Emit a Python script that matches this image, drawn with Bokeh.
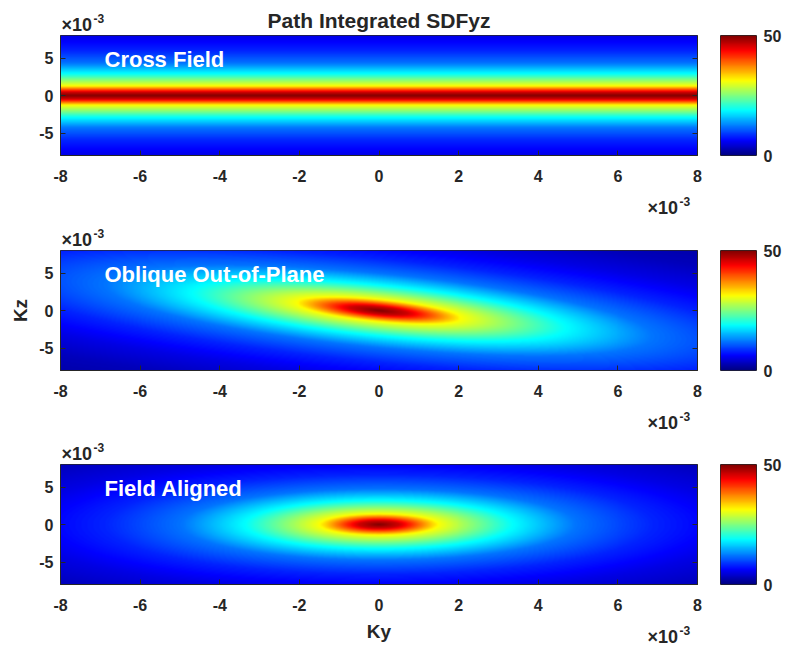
import numpy as np
from bokeh.plotting import figure
from bokeh.layouts import column, row
from bokeh.models import LinearColorMapper, FixedTicker, Label, LinearAxis, Range1d
from bokeh.embed import file_html
from bokeh.resources import INLINE

# ---------------- data (wavenumbers in units of 1e-3) ----------------
ky_limits = [-8, 8]
kz_limits = [-8, 8]
x_ticks = [-8, -6, -4, -2, 0, 2, 4, 6, 8]
y_ticks = [-5, 0, 5]
cbar_limits = [0, 50]
cbar_ticks = [0, 50]
title_text = "Path Integrated SDFyz"
x_label = "Ky"
y_label = "Kz"
panel_names = ["Cross Field", "Oblique Out-of-Plane", "Field Aligned"]
# SDF value versus normalised elliptical radius
profile_r = [0.0, 0.45, 1.3, 2.9, 4.3, 6.0, 8.0, 10.0, 14.0]
profile_f = [50.0, 46.0, 31.0, 19.0, 12.0, 8.0, 5.0, 3.0, 1.0]
# per-panel ellipse half-widths (1e-3) and tilt (kz shift per unit ky)
scale_ky = [None, 1.6, 1.15]
scale_kz = [1.0, 1.15, 1.1]
shear = [0.0, 0.5, 0.0]

# ---------------- styling ----------------
FONT = "Liberation Sans"
INK = "#262626"
W = 787

def jet_palette(n=256):
    out = []
    for t in np.linspace(0, 1, n):
        r = np.clip(1.5 - abs(4 * t - 3), 0, 1)
        g = np.clip(1.5 - abs(4 * t - 2), 0, 1)
        b = np.clip(1.5 - abs(4 * t - 1), 0, 1)
        out.append("#%02x%02x%02x" % (int(r * 255), int(g * 255), int(b * 255)))
    return out

mapper = LinearColorMapper(palette=jet_palette(), low=cbar_limits[0], high=cbar_limits[1])

ky = np.linspace(ky_limits[0], ky_limits[1], 641)
kz = np.linspace(kz_limits[0], kz_limits[1], 241)
KY, KZ = np.meshgrid(ky, kz)

def field(i):
    v = (KZ + shear[i] * KY) / scale_kz[i]
    u = 0.0 if scale_ky[i] is None else KY / scale_ky[i]
    r = np.hypot(u, v)
    return np.interp(r, profile_r, profile_f)

LEFT, FW, RGT = 60, 637, 10
MAIN_W = LEFT + FW + RGT
CB_L, CB_W = 13, 36
CB_R = W - MAIN_W - CB_L - CB_W
FH = 120
BB = 38
frame_tops = [35, 250, 464]
strip_bounds = [(0, 35), (193, 250), (408, 464), (622, 647)]
cb_bounds = [(0, 202), (202, 417), (417, 647)]

def style_axis(ax, labels=True):
    ax.axis_line_color = INK
    ax.major_tick_line_color = INK
    ax.minor_tick_line_color = None
    ax.major_tick_in = 5
    ax.major_tick_out = 0
    ax.major_label_text_font = FONT
    ax.major_label_text_font_style = "bold"
    ax.major_label_text_color = INK
    ax.major_label_text_font_size = "16px" if labels else "0px"

def lab(p, text, x, y, size, xo=0, yo=0, align="left", color=INK):
    p.add_layout(Label(x=x, y=y, x_offset=xo, y_offset=yo, text=text, text_font=FONT,
                       text_font_size=size, text_font_style="bold",
                       text_color=color, text_align=align, text_baseline="middle"))

fl = LEFT
fr = LEFT + FW

def strip(y0, y1):
    # a column aligns this strip's frame with the panels' frames (x fl..fr)
    s = figure(width=MAIN_W, height=y1 - y0, x_range=Range1d(fl, fr), y_range=Range1d(y1, y0),
               min_border_left=LEFT, min_border_right=RGT, min_border_top=0, min_border_bottom=0,
               x_axis_location=None, y_axis_location=None,
               output_backend="svg", toolbar_location=None)
    s.outline_line_color = None
    s.grid.visible = False
    return s

def exponent(s, x_left, mid):
    lab(s, "\u00d710", x_left, mid, "18px")
    lab(s, "-3", x_left + 32, mid - 6.5, "12px")

strips = [strip(a, b) for a, b in strip_bounds]
lab(strips[0], title_text, (fl + fr) / 2, 20, "21px", align="center")
for i in range(3):
    exponent(strips[i], fl + 1, frame_tops[i] - 10.5)
    exponent(strips[i + 1], fr - 50, frame_tops[i] + FH + 52.5)
lab(strips[3], x_label, (fl + fr) / 2, 631, "19px", align="center")

mains, cbars = [], []
for i in range(3):
    p = figure(width=MAIN_W, height=FH + BB,
               x_range=Range1d(ky_limits[0], ky_limits[1]),
               y_range=Range1d(kz_limits[0], kz_limits[1]),
               min_border_left=LEFT, min_border_right=RGT,
               min_border_top=0, min_border_bottom=BB,
               output_backend="svg", toolbar_location=None)
    p.image(image=[field(i)], x=ky_limits[0], y=kz_limits[0],
            dw=ky_limits[1] - ky_limits[0], dh=kz_limits[1] - kz_limits[0], color_mapper=mapper)
    p.grid.visible = False
    p.outline_line_color = INK
    p.xaxis.ticker = FixedTicker(ticks=x_ticks)
    p.xaxis.major_label_overrides = {t: str(t) for t in x_ticks}
    p.yaxis.ticker = FixedTicker(ticks=y_ticks)
    p.yaxis.major_label_overrides = {t: str(t) for t in y_ticks}
    style_axis(p.xaxis[0]); style_axis(p.yaxis[0])
    p.xaxis.major_label_standoff = 14
    p.yaxis.major_label_standoff = 7
    right_ax = LinearAxis(ticker=FixedTicker(ticks=y_ticks), major_label_standoff=0)
    style_axis(right_ax, labels=False)
    p.add_layout(right_ax, "right")
    if i == 1:
        p.yaxis[0].axis_label = y_label
        p.yaxis[0].axis_label_text_font = FONT
        p.yaxis[0].axis_label_text_font_size = "19px"
        p.yaxis[0].axis_label_text_font_style = "bold"
        p.yaxis[0].axis_label_text_color = INK
        p.yaxis[0].axis_label_standoff = 5
    lab(p, panel_names[i], ky_limits[0], kz_limits[1], "22px", xo=44, yo=-24, color="white")
    mains.append(p)

    y0, y1 = cb_bounds[i]
    top_b = frame_tops[i] - y0
    bot_b = (y1 - y0) - top_b - FH
    c = figure(width=CB_L + CB_W + CB_R, height=y1 - y0,
               x_range=Range1d(0, 1), y_range=Range1d(cbar_limits[0], cbar_limits[1]),
               min_border_left=CB_L, min_border_right=CB_R,
               min_border_top=top_b, min_border_bottom=bot_b,
               y_axis_location="right", output_backend="svg", toolbar_location=None)
    grad = np.linspace(cbar_limits[0], cbar_limits[1], 256).reshape(256, 1)
    c.image(image=[grad], x=0, y=cbar_limits[0], dw=1, dh=cbar_limits[1] - cbar_limits[0],
            color_mapper=mapper)
    c.grid.visible = False
    c.xaxis.visible = False
    c.outline_line_color = INK
    c.yaxis.ticker = FixedTicker(ticks=cbar_ticks)
    c.yaxis.major_label_overrides = {t: str(t) for t in cbar_ticks}
    style_axis(c.yaxis[0])
    c.yaxis.major_tick_in = 0
    c.yaxis.axis_line_color = None
    c.yaxis.major_label_standoff = 7
    cbars.append(c)

left_col = column(strips[0], mains[0], strips[1], mains[1], strips[2], mains[2], strips[3])
right_col = column(*cbars)
layout = row(left_col, right_col)
open("out.html", "w").write(file_html(layout, INLINE))
